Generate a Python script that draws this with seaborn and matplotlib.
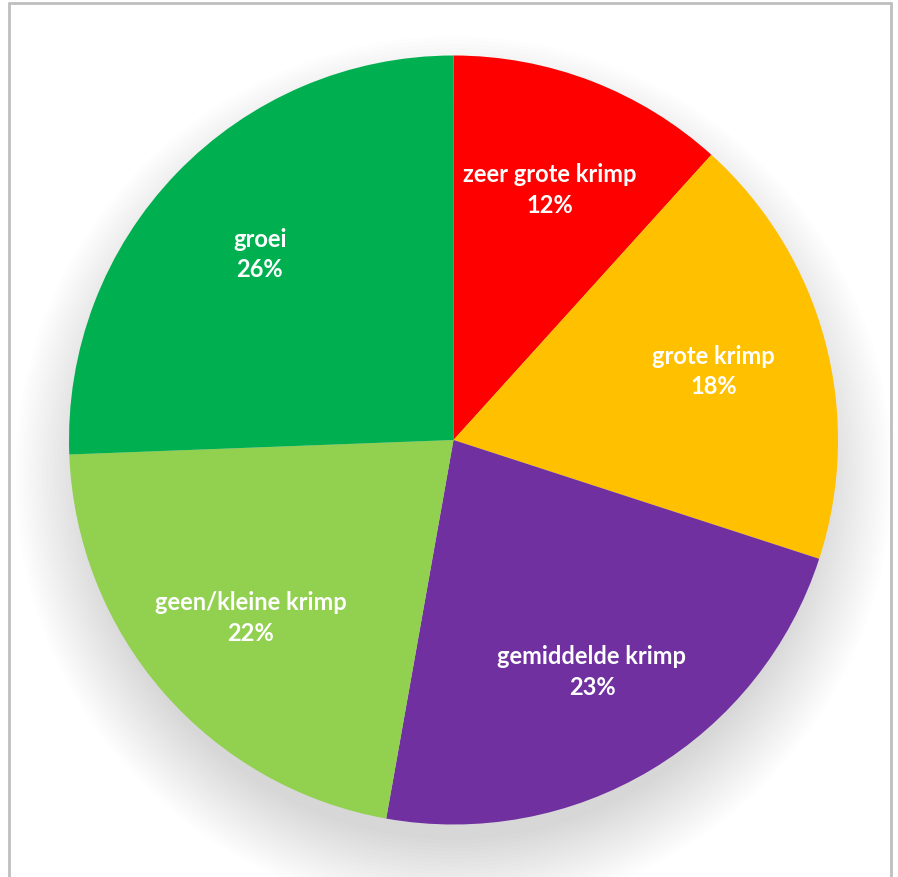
import matplotlib
matplotlib.use("Agg")
import matplotlib.pyplot as plt
import seaborn as sns
import numpy as np
from matplotlib.lines import Line2D
from matplotlib.patches import Circle

categories = ["zeer grote krimp", "grote krimp", "gemiddelde krimp", "geen/kleine krimp", "groei"]
values = [11.7, 18.3, 22.8, 21.6, 25.6]
pct_labels = ["12%", "18%", "23%", "22%", "26%"]
colors = ["#FF0000", "#FFC000", "#7030A0", "#92D050", "#00B050"]

sns.set_theme(style="white")
plt.rcParams['font.family'] = ['Lato', 'DejaVu Sans']
palette = sns.color_palette(colors)

W, H = 898, 878
fig = plt.figure(figsize=(W / 100, H / 100), dpi=100)
fig.patch.set_facecolor("white")

cx, cy, r = 453.5, 441, 384.5
ax = fig.add_axes([(cx - r) / W, (H - cy - r) / H, 2 * r / W, 2 * r / H])

# soft, blurred shadow below the pie
for s in np.linspace(1.14, 0.95, 20):
    ax.add_patch(Circle((0, -0.09), s, color="black", alpha=0.006, lw=0, clip_on=False, zorder=0))

labels = [f"{c}\n{p}" for c, p in zip(categories, pct_labels)]
wedges, texts = ax.pie(values, labels=labels, colors=palette, startangle=90, counterclock=False,
                       labeldistance=0.70, radius=1,
                       wedgeprops=dict(linewidth=0),
                       textprops=dict(color="white", fontsize=17, fontweight="bold"))
for w in wedges:
    w.set_zorder(2)
for t in texts:
    t.set_ha("center")
    t.set_va("center")
    t.set_linespacing(1.4)
    t.set_zorder(3)
ax.set_xlim(-1, 1)
ax.set_ylim(-1, 1)
ax.set_aspect("equal")
ax.axis("off")

# chart frame
fc = "#BFBFBF"
fig.add_artist(Line2D([9 / W, 891 / W], [1 - 4 / H, 1 - 4 / H], color=fc, lw=2, transform=fig.transFigure))
fig.add_artist(Line2D([9 / W, 9 / W], [0, 1 - 4 / H], color=fc, lw=2, transform=fig.transFigure))
fig.add_artist(Line2D([891 / W, 891 / W], [0, 1 - 4 / H], color=fc, lw=2, transform=fig.transFigure))

fig.savefig("out.png", dpi=100)
